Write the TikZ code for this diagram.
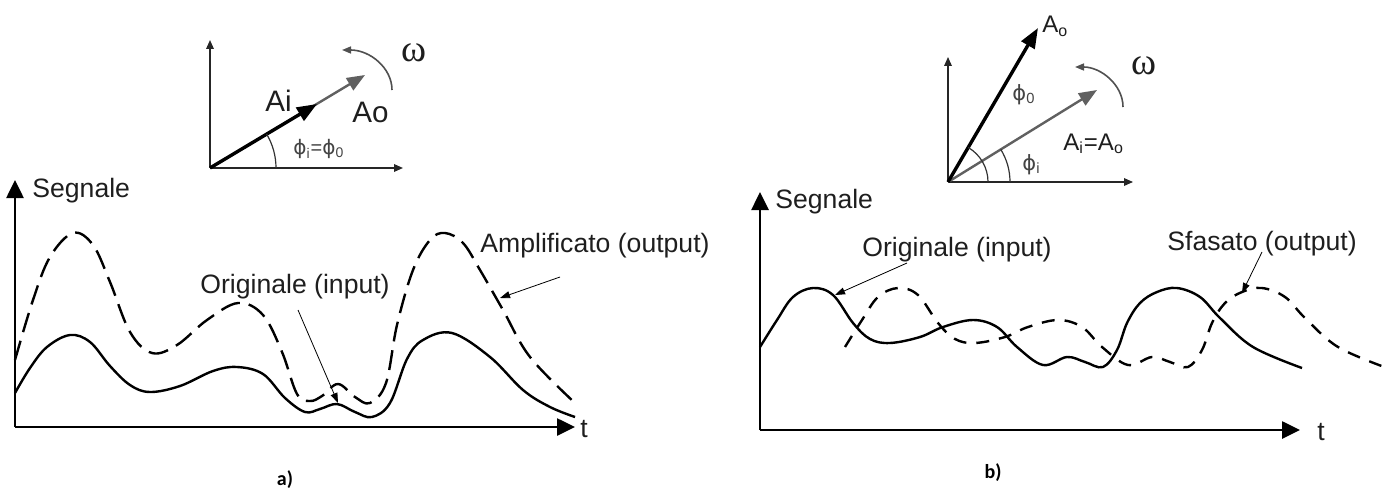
\documentclass[tikz,border=0pt]{standalone}
\usepackage{fontspec}
\setmainfont{Liberation Sans}
\newfontfamily\grfont{Liberation Serif}
\newfontfamily\phfont{DejaVu Sans}
\newfontfamily\labfont{Carlito}
\usetikzlibrary{arrows.meta}
\definecolor{txt}{HTML}{1E1E1E}
\definecolor{phtxt}{HTML}{444444}
\definecolor{vgray}{HTML}{606060}
\definecolor{rgray}{HTML}{505050}
\begin{document}
\begin{tikzpicture}[x=0.5pt,y=-0.5pt,
  axis/.style={line width=1.3pt,-{Triangle[length=9pt,width=8.5pt]}},
  paxis/.style={line width=0.7pt,draw=black!85,-{Triangle[length=4.5pt,width=3.8pt]}},
  curve/.style={line width=1.2pt},
  dcurveA/.style={curve,dash pattern=on 10pt off 4.5pt},
  dcurveB/.style={curve,dash pattern=on 6.5pt off 5pt},
  pointer/.style={line width=0.4pt,-{Triangle[length=5pt,width=3.5pt]}},
  vecblack/.style={line width=1.7pt,-{Triangle[length=10pt,width=7.5pt]}},
  vecgray/.style={line width=1.2pt,draw=vgray,-{Triangle[length=9pt,width=7pt,fill=vgray]}},
  rot/.style={line width=0.8pt,draw=rgray,-{Triangle[length=4.5pt,width=3.5pt,fill=rgray]}},
  anglearc/.style={line width=0.6pt,draw=black!80},
  lbl/.style={font=\fontsize{13.3}{15}\selectfont,text=txt,inner sep=0pt,anchor=base west},
  plbl/.style={font=\fontsize{14.8}{16}\selectfont,text=txt,inner sep=0pt,anchor=base west},
  rlbl/.style={font=\fontsize{12}{14}\selectfont,text=txt,inner sep=0pt,anchor=base west},
  phl/.style={font=\fontsize{10}{12}\selectfont,text=phtxt,inner sep=0pt,anchor=base west},
  oml/.style={font=\grfont\fontsize{19}{20}\selectfont,text=txt,inner sep=0pt,anchor=base west},
  panel/.style={font=\labfont\bfseries\fontsize{10}{12}\selectfont,text=black,inner sep=0pt}
]
\useasboundingbox (0,0) rectangle (1395,492);

% ================= panel a) =================
% phasor diagram
\coordinate (oa) at (210,168);
\coordinate (oaY) at (210,40);
\coordinate (oaX) at (403,168);
\coordinate (aiTip) at (317,104);
\coordinate (aoTip) at (365,75);
\draw[paxis] (oa) -- (oaY);
\draw[paxis] (oa) -- (oaX);
\draw[vecgray] (oa) -- (aoTip);
\draw[vecblack] (oa) -- (aiTip);
\draw[anglearc] (276,168) arc[start angle=0,end angle=31,radius=33pt];
\coordinate (rotAs) at (392,90);
\coordinate (rotAe) at (342,50);
\draw[rot] (rotAs) .. controls (392,68) and (370,50) .. (rotAe);
\node[plbl] (ai) at (265,112) {Ai};
\node[plbl] (ao) at (352,122) {Ao};
\node[oml] (omA) at (401,62) {ω};
\node[phl] (phiA) at (293,155) {{\phfont ϕ}\textsubscript{i}={\phfont ϕ}\textsubscript{0}};

% signal plot
\coordinate (ga) at (15,427);
\draw[axis] (ga) -- (15,180);
\draw[axis] (ga) -- (575,427);
\node[lbl] (segA) at (32,197) {Segnale};
\node[lbl] (tA) at (580,437) {t};
\draw[curve] plot[smooth,tension=0.6] coordinates {(15,393) (30,368) (47,347) (70,335) (90,342) (110,366) (130,385) (150,392) (180,386) (213,371) (237,367) (263,374) (285,398) (305,412) (320,409) (337,404) (355,412) (372,417) (390,403) (407,359) (423,340) (452,333) (490,357) (523,390) (550,407) (575,417)};
\draw[dcurveA] plot[smooth,tension=0.6] coordinates {(15,360) (33,300) (50,257) (73,233) (93,245) (110,282) (130,332) (152,353) (177,345) (207,320) (238,303) (263,315) (282,352) (297,394) (310,401) (322,396) (338,384) (355,397) (370,403) (386,383) (397,325) (413,270) (430,240) (445,233) (463,243) (480,270) (503,310) (530,357) (575,403)};
\node[lbl] (origA) at (200,293) {Originale (input)};
\node[lbl] (ampA) at (480,252) {Amplificato (output)};
\coordinate (pOAs) at (298,310);
\coordinate (pOAe) at (338,403);
\draw[pointer] (pOAs) -- (pOAe);
\coordinate (pAAs) at (560,277);
\coordinate (pAAe) at (500,298);
\draw[pointer] (pAAs) -- (pAAe);
\node[panel] (pa) at (285,480) {a)};

% ================= panel b) =================
\coordinate (ob) at (948,182);
\coordinate (obY) at (948,57);
\coordinate (obX) at (1133,182);
\coordinate (boTip) at (1038,28);
\coordinate (biTip) at (1097,90);
\draw[paxis] (ob) -- (obY);
\draw[paxis] (ob) -- (obX);
\draw[vecgray] (ob) -- (biTip);
\draw[vecblack] (ob) -- (boTip);
\draw[anglearc] (988,182) arc[start angle=0,end angle=59.7,radius=20pt];
\draw[anglearc] (1010,182) arc[start angle=0,end angle=31.7,radius=31pt];
\coordinate (rotBs) at (1123,107);
\coordinate (rotBe) at (1075,67);
\draw[rot] (rotBs) .. controls (1123,85) and (1101,67) .. (rotBe);
\node[rlbl] (aoB) at (1042,33) {A\textsubscript{o}};
\node[phl,font=\fontsize{10.5}{12}\selectfont] (phi0B) at (1012,100) {{\phfont ϕ}\textsubscript{0}};
\node[oml] (omB) at (1131,75) {ω};
\node[rlbl] (aiaoB) at (1063,150) {A\textsubscript{i}=A\textsubscript{o}};
\node[phl,font=\fontsize{10.5}{12}\selectfont] (phiiB) at (1022,170) {{\phfont ϕ}\textsubscript{i}};

% signal plot
\coordinate (gb) at (760,430);
\draw[axis] (gb) -- (760,192);
\draw[axis] (gb) -- (1300,430);
\node[lbl] (segB) at (775,208) {Segnale};
\node[lbl] (tB) at (1317,440) {t};
\draw[curve] plot[smooth,tension=0.6] coordinates {(760,347) (777,320) (793,297) (813,288) (833,295) (853,323) (870,339) (890,343) (920,337) (943,327) (973,320) (997,327) (1017,347) (1043,365) (1067,357) (1085,362) (1103,367) (1117,350) (1127,323) (1140,303) (1157,292) (1177,288) (1200,297) (1220,318) (1253,347) (1302,368)};
\begin{scope}[xshift=42.5pt]
\draw[dcurveB] plot[smooth,tension=0.6] coordinates {(760,347) (777,320) (793,297) (813,288) (833,295) (853,323) (870,339) (890,343) (920,337) (943,327) (973,320) (997,327) (1017,347) (1043,365) (1067,357) (1085,362) (1103,367) (1117,350) (1127,323) (1140,303) (1157,292) (1177,288) (1200,297) (1220,318) (1253,347) (1302,368)};
\end{scope}
\node[lbl] (origB) at (862,256) {Originale (input)};
\node[lbl] (sfB) at (1167,250) {Sfasato (output)};
\coordinate (pOBs) at (907,263);
\coordinate (pOBe) at (835,295);
\draw[pointer] (pOBs) -- (pOBe);
\coordinate (pSBs) at (1262,252);
\coordinate (pSBe) at (1242,293);
\draw[pointer] (pSBs) -- (pSBe);
\node[panel] (pb) at (993,473) {b)};
\end{tikzpicture}
\end{document}
